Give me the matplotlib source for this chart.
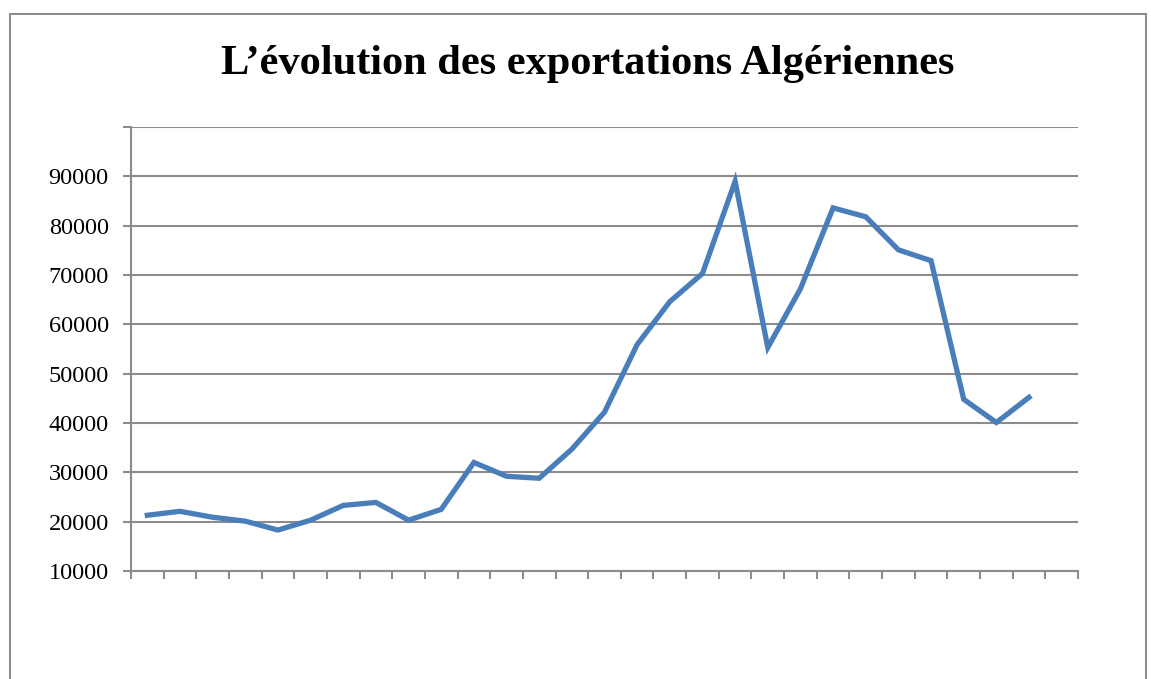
import matplotlib.pyplot as plt
from matplotlib.patches import Rectangle

# exportations (millions USD)
exports = [21300, 22100, 20900, 20100, 18300, 20300, 23300, 23900, 20300, 22500,
           32000, 29200, 28800, 34700, 42200, 55900, 64600, 70300, 89000, 55300,
           67200, 83600, 81800, 75100, 72900, 44800, 40100, 45200]
n_categories = 29
y_ticks = [10000, 20000, 30000, 40000, 50000, 60000, 70000, 80000, 90000, 100000]
y_labels = ["10000", "20000", "30000", "40000", "50000", "60000", "70000", "80000", "90000", ""]
title = "L\u2019évolution des exportations Algériennes"

plt.rcParams["font.family"] = ["Liberation Serif", "DejaVu Serif"]

fig = plt.figure(figsize=(11.51, 6.79), dpi=100)
grey = "#8c8c8c"

# cadre du graphique
fig.patches.append(Rectangle((10 / 1151, -0.1), (1146 - 10) / 1151, 1.1 - 14 / 679,
                             transform=fig.transFigure, fill=False,
                             edgecolor=grey, linewidth=1.5))

ax = fig.add_axes([131 / 1151, 1 - 571 / 679, (1078 - 131) / 1151, (571 - 127) / 679])

x = [i + 0.5 for i in range(len(exports))]
ax.plot(x, exports, color="#4a7ebb", linewidth=3.8, solid_joinstyle="miter", zorder=3)

ax.set_xlim(0, n_categories)
ax.set_ylim(10000, 100000)
ax.set_xticks(range(n_categories + 1))
ax.set_xticklabels([])
ax.set_yticks(y_ticks)
ax.set_yticklabels(y_labels, fontsize=17.5)

ax.grid(axis="y", color=grey, linewidth=1.5)
ax.set_axisbelow(True)
for side in ["top", "right"]:
    ax.spines[side].set_visible(False)
for side in ["left", "bottom"]:
    ax.spines[side].set_color(grey)
    ax.spines[side].set_linewidth(1.5)
ax.tick_params(axis="both", direction="out", length=6, width=1.5, color=grey, pad=10)

fig.text(588 / 1151, 1 - 64 / 679, title, ha="center", va="center",
         fontsize=30.5, fontweight="bold")

plt.savefig("out.png", dpi=100)
